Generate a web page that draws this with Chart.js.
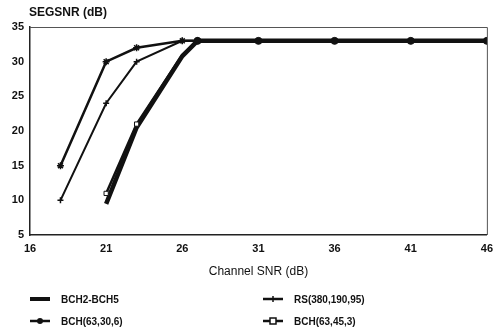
<!DOCTYPE html>
<html>
<head>
<meta charset="utf-8">
<script src="https://cdn.jsdelivr.net/npm/chart.js@4.4.1/dist/chart.umd.min.js"></script>
<style>
  html, body { margin: 0; padding: 0; background: #fff; }
  #wrap { width: 500px; height: 329px; position: relative; }
</style>
</head>
<body>
<div id="wrap"><canvas id="c"></canvas></div>
<script>
// Channel SNR (dB) values and SEGSNR (dB)
var xTicks = [16, 21, 26, 31, 36, 41, 46];
var yTicks = [5, 10, 15, 20, 25, 30, 35];

var bchAllX = [21, 23, 26, 27, 31, 36, 41, 46];
var bchAllY = [9.5, 20.5, 30.8, 33, 33, 33, 33, 33];

var rsX = [18, 21, 23, 26, 27];
var rsY = [10, 24, 30, 33, 33];

var bch30X = [18, 21, 23, 26, 27];
var bch30Y = [15, 30, 32, 33, 33];

var bch45X = [21, 23, 26, 27];
var bch45Y = [11, 21, 31, 33];

var seriesNames = ['BCH2-BCH5', 'RS(380,190,95)', 'BCH(63,30,6)', 'BCH(63,45,3)'];

var FONT = 'Liberation Sans, Arial, sans-serif';

function _pts(xs, ys) {
    return xs.map(function(x, i) { return { x: x, y: ys[i] }; });
}

// Plugin: frame, y title and a two-column legend under the axis
var extrasPlugin = {
    id: 'extras',
    afterDraw: function(chart) {
        var ctx = chart.ctx;
        var a = chart.chartArea;
        ctx.save();
        // thin top/right frame
        ctx.strokeStyle = '#555';
        ctx.lineWidth = 1;
        ctx.beginPath();
        ctx.moveTo(a.left, a.top + 0.5);
        ctx.lineTo(a.right + 0.5, a.top + 0.5);
        ctx.lineTo(a.right + 0.5, a.bottom);
        ctx.stroke();

        ctx.fillStyle = '#111';
        ctx.font = 'bold 12px ' + FONT;
        ctx.textBaseline = 'middle';
        ctx.textAlign = 'left';
        ctx.fillText('SEGSNR (dB)', 29, 13);

        // legend
        var cols = [30, 263];
        var rows = [299, 321];
        ctx.font = 'bold 10px ' + FONT;
        seriesNames.forEach(function(name, i) {
            var lx = cols[i % 2];
            var ly = rows[Math.floor(i / 2)];
            ctx.strokeStyle = '#111';
            ctx.lineWidth = i === 0 ? 4 : 2.5;
            ctx.beginPath();
            ctx.moveTo(lx, ly);
            ctx.lineTo(lx + 20, ly);
            ctx.stroke();
            var mx = lx + 10;
            ctx.lineWidth = 1.5;
            if (i === 1) {
                ctx.beginPath();
                ctx.moveTo(mx, ly - 3); ctx.lineTo(mx, ly + 3);
                ctx.stroke();
            } else if (i === 2) {
                ctx.beginPath();
                ctx.arc(mx, ly, 3, 0, Math.PI * 2);
                ctx.fillStyle = '#111';
                ctx.fill();
            } else if (i === 3) {
                ctx.fillStyle = '#fff';
                ctx.fillRect(mx - 3, ly - 3, 6, 6);
                ctx.strokeRect(mx - 3, ly - 3, 6, 6);
            }
            ctx.fillStyle = '#111';
            ctx.fillText(name, lx + 31, ly + 1);
        });
        ctx.restore();
    }
};

new Chart(document.getElementById('c'), {
    type: 'line',
    data: {
        datasets: [{
            label: seriesNames[0],
            data: _pts(bchAllX, bchAllY),
            borderColor: '#111',
            backgroundColor: '#111',
            borderWidth: 4.5,
            pointRadius: [0, 0, 0, 3.5, 3.5, 3.5, 3.5, 3.5],
            pointBorderWidth: 1,
            pointStyle: 'circle',
            order: 4,
        }, {
            label: seriesNames[1],
            data: _pts(rsX, rsY),
            borderColor: '#111',
            backgroundColor: '#111',
            borderWidth: 2,
            pointRadius: 3,
            pointStyle: 'cross',
            pointBorderWidth: 1.5,
            order: 2,
        }, {
            label: seriesNames[2],
            data: _pts(bch30X, bch30Y),
            borderColor: '#111',
            backgroundColor: '#111',
            borderWidth: 2.5,
            pointRadius: 3.5,
            pointStyle: 'star',
            pointBorderWidth: 1.5,
            order: 1,
        }, {
            label: seriesNames[3],
            data: _pts(bch45X, bch45Y),
            borderColor: '#111',
            backgroundColor: '#fff',
            borderWidth: 2.5,
            pointRadius: [3, 3, 0, 0],
            pointStyle: 'rect',
            pointBorderWidth: 1,
            order: 3,
        }],
    },
    options: {
        responsive: true,
        maintainAspectRatio: false,
        animation: false,
        layout: { padding: { left: 0, right: 7, top: 27, bottom: 50 } },
        plugins: {
            legend: { display: false },
            tooltip: { enabled: false },
        },
        scales: {
            x: {
                type: 'linear',
                min: 16,
                max: 46,
                afterBuildTicks: function(axis) {
                    axis.ticks = xTicks.map(function(v) { return { value: v }; });
                },
                grid: { display: false, drawTicks: false },
                border: { display: true, color: '#222', width: 1.5 },
                ticks: {
                    color: '#111',
                    padding: 7,
                    font: { family: FONT, size: 11, weight: 'bold' },
                },
                title: {
                    display: true,
                    text: 'Channel SNR (dB)',
                    color: '#111',
                    padding: { top: 6, bottom: 0 },
                    font: { family: FONT, size: 12 },
                },
                afterFit: function(axis) { axis.height = 44; },
            },
            y: {
                min: 5,
                max: 35,
                afterBuildTicks: function(axis) {
                    axis.ticks = yTicks.map(function(v) { return { value: v }; });
                },
                grid: { display: false, drawTicks: false },
                border: { display: true, color: '#222', width: 1.5 },
                ticks: {
                    color: '#111',
                    padding: 6,
                    font: { family: FONT, size: 11, weight: 'bold' },
                },
                afterFit: function(axis) { axis.width = 30; },
            },
        },
    },
    plugins: [extrasPlugin],
});
</script>
</body>
</html>
